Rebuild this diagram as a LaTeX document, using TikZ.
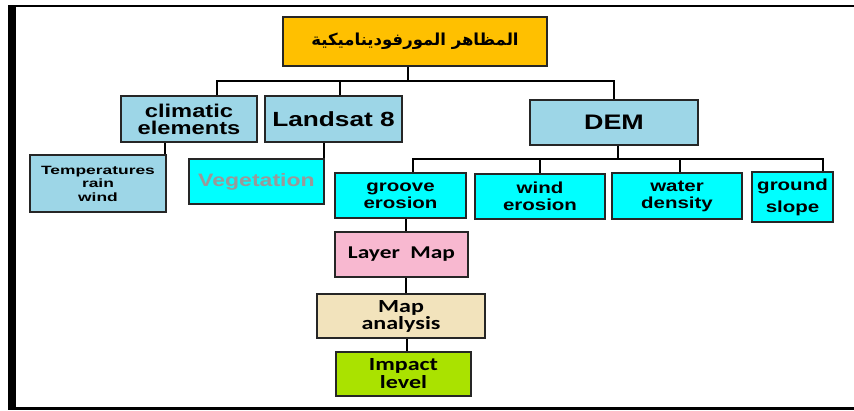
\documentclass[tikz,border=0pt]{standalone}
\usepackage{fontspec}
\usepackage{tikz}
\TeXXeTstate=1
\newfontfamily\boxfont{Liberation Sans}[FakeStretch=1.28]
\newfontfamily\tempfont{Liberation Sans}[FakeStretch=1.45]
\newfontfamily\calfont{Carlito}[FakeStretch=1.3]
\newfontfamily\arabicfont[Script=Arabic]{DejaVu Sans}
\definecolor{titlegold}{RGB}{255,192,0}
\definecolor{paleblue}{RGB}{157,214,231}
\definecolor{brightcyan}{RGB}{0,255,255}
\definecolor{layerpink}{RGB}{248,184,208}
\definecolor{mapbeige}{RGB}{242,227,188}
\definecolor{impactgreen}{RGB}{170,226,0}

\begin{document}
\begin{tikzpicture}[x=1pt,y=-1pt]
        \tikzstyle{box}=[draw=black!85, line width=1.6pt, rectangle, inner sep=0pt, align=center]
        \tikzstyle{link}=[black, line width=1.8pt]
        \useasboundingbox (0,0) rectangle (854,410);
        % frame
        \draw [line width=7.5pt] (11.8,5) -- (11.8,410);
        \draw [line width=2pt] (8,6.3) -- (854,6.3);
        \draw [line width=2.5pt] (8,408.7) -- (854,408.7);
        % top level
        \node [box, fill=titlegold, minimum width=264, minimum height=49,
               font=\arabicfont\bfseries\fontsize{16.5}{18}\selectfont] (title) at (415,41.5)
              {\beginR المظاهر المورفوديناميكية\endR};
        \node [box, fill=paleblue, minimum width=136, minimum height=46,
               font=\boxfont\bfseries\fontsize{18.5}{17}\selectfont] (clim) at (189,119) {climatic\\elements};
        \node [box, fill=paleblue, minimum width=137, minimum height=46,
               font=\boxfont\bfseries\fontsize{20.5}{22}\selectfont] (land) at (333.5,119) {Landsat 8};
        \node [box, fill=paleblue, minimum width=168, minimum height=45,
               font=\boxfont\bfseries\fontsize{21}{22}\selectfont] (dem) at (614,122.5) {DEM};
        % second level
        \node [box, fill=paleblue, minimum width=136, minimum height=57,
               font=\tempfont\bfseries\fontsize{12}{13.5}\selectfont] (temp) at (98,183.5) {Temperatures\\rain\\wind};
        \node [box, fill=brightcyan, minimum width=135, minimum height=45, text=black!40,
               font=\boxfont\bfseries\fontsize{18}{20}\selectfont] (veg) at (256.5,181.5) {Vegetation};
        \node [box, fill=brightcyan, minimum width=131, minimum height=45,
               font=\boxfont\bfseries\fontsize{16}{17}\selectfont] (groove) at (400.5,195.5) {groove\\erosion};
        \node [box, fill=brightcyan, minimum width=130, minimum height=45,
               font=\boxfont\bfseries\fontsize{16}{17}\selectfont] (wind) at (540,196.5) {wind\\erosion};
        \node [box, fill=brightcyan, minimum width=130, minimum height=46,
               font=\boxfont\bfseries\fontsize{16}{17}\selectfont] (water) at (677,196) {water\\density};
        \node [box, fill=brightcyan, minimum width=81, minimum height=50,
               font=\boxfont\bfseries\fontsize{16}{22}\selectfont] (ground) at (792.5,197) {ground\\slope};
        % chain under groove erosion
        \node [box, fill=layerpink, minimum width=133, minimum height=45,
               font=\calfont\bfseries\fontsize{18}{20}\selectfont] (layer) at (401.5,254.5) {Layer~ Map};
        \node [box, fill=mapbeige, minimum width=168, minimum height=44,
               font=\calfont\bfseries\fontsize{18.5}{17}\selectfont] (anal) at (401,316) {Map\\analysis};
        \node [box, fill=impactgreen, minimum width=135, minimum height=44,
               font=\calfont\bfseries\fontsize{18.5}{18}\selectfont] (impact) at (403.5,374) {Impact\\level};
        % buses
        \coordinate (topbus) at (408,81);
        \coordinate (dembus) at (618,159);
        \draw [link] (title.south -| topbus) -- (topbus);
        \draw [link] (topbus) -| ([xshift=28pt]clim.north);
        \draw [link] (topbus) -| ([xshift=6.5pt]land.north);
        \draw [link] (topbus) -| (dem.north);
        \draw [link] (dem.south -| dembus) -- (dembus);
        \draw [link] (dembus) -| ([xshift=12.5pt]groove.north);
        \draw [link] (dembus) -| (wind.north);
        \draw [link] (dembus) -| ([xshift=3pt]water.north);
        \draw [link] (dembus) -| ([xshift=30.5pt]ground.north);
        \draw [link] ([xshift=-2pt]temp.north east) -- ([xshift=-2pt]temp.north east |- clim.south);
        \draw [link] ([xshift=-1pt]veg.north east) -- ([xshift=-1pt]veg.north east |- land.south);
        \draw [link] ([xshift=5.5pt]groove.south) -- ([xshift=5.5pt]groove.south |- layer.north);
        \draw [link] ([xshift=4.5pt]layer.south) -- ([xshift=4.5pt]layer.south |- anal.north);
        \draw [link] ([xshift=6pt]anal.south) -- ([xshift=6pt]anal.south |- impact.north);
\end{tikzpicture}
\end{document}
